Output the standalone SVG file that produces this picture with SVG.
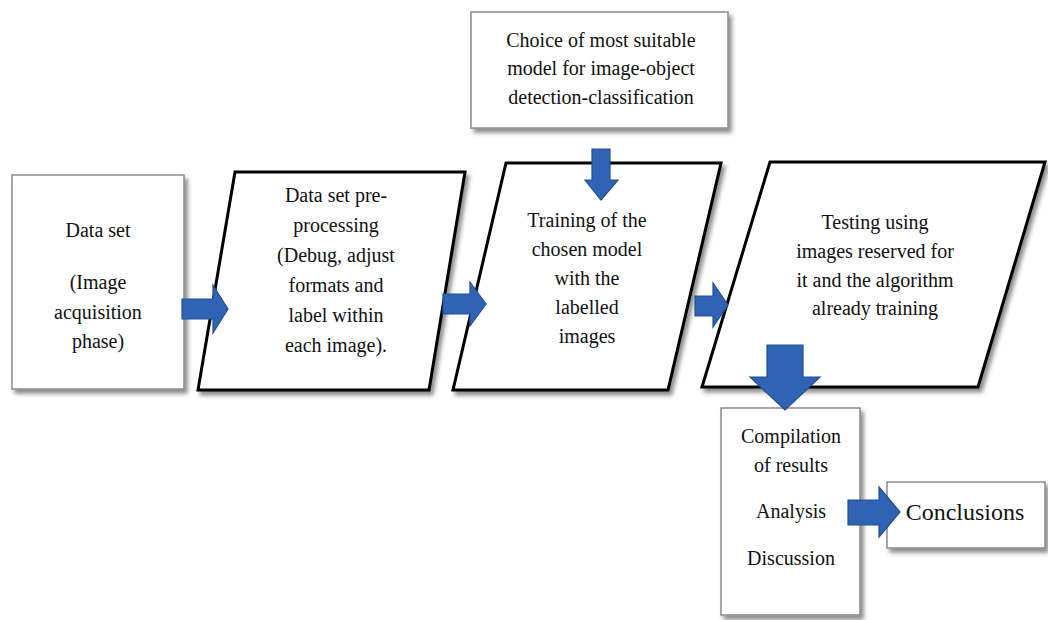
<svg xmlns="http://www.w3.org/2000/svg" width="1048" height="620" viewBox="0 0 1048 620" font-family="'Liberation Serif', 'Times New Roman', 'DejaVu Serif', serif">
<defs>
<filter id="sh" x="-10%" y="-10%" width="130%" height="130%">
<feDropShadow dx="3" dy="4" stdDeviation="2" flood-color="#000" flood-opacity="0.45"/>
</filter>
<style>
.box{fill:#fff;stroke:#8a8a8a;stroke-width:1.5;filter:url(#sh)}
.para{fill:#fff;stroke:#000;stroke-width:3;stroke-linejoin:miter;filter:url(#sh)}
.arr{fill:#2f63b6;stroke:#24508f;stroke-width:1.2;stroke-linejoin:miter}
.t{font-family:'Liberation Serif', 'Times New Roman', 'DejaVu Serif', serif;font-size:20px;fill:#111;text-anchor:middle}
.big{font-size:24px}
</style>
</defs>
<rect width="1048" height="620" fill="#fff"/>
<g id="dataset">
<rect class="box" x="12" y="175" width="172" height="214"/>
<text class="t" x="98" y="237">Data set</text>
<text class="t" x="98" y="289">(Image</text>
<text class="t" x="98" y="319">acquisition</text>
<text class="t" x="98" y="348">phase)</text>
</g>
<g id="preprocessing">
<polygon class="para" points="235,172 465,172 429,390 198,390"/>
<text class="t" x="336" y="202">Data set pre-</text>
<text class="t" x="336" y="232">processing</text>
<text class="t" x="336" y="262">(Debug, adjust</text>
<text class="t" x="336" y="292">formats and</text>
<text class="t" x="336" y="322">label within</text>
<text class="t" x="336" y="352">each image).</text>
</g>
<g id="choice">
<rect class="box" x="471" y="12" width="257" height="116"/>
<text class="t" x="601" y="47">Choice of most suitable</text>
<text class="t" x="601" y="75">model for image-object</text>
<text class="t" x="601" y="104">detection-classification</text>
</g>
<g id="training">
<polygon class="para" points="506,163 721,163 668,390 453,390"/>
<text class="t" x="587" y="227">Training of the</text>
<text class="t" x="587" y="256">chosen model</text>
<text class="t" x="587" y="285">with the</text>
<text class="t" x="587" y="314">labelled</text>
<text class="t" x="587" y="343">images</text>
</g>
<g id="testing">
<polygon class="para" points="770,162 1045,162 978,387 702,387"/>
<text class="t" x="875" y="229">Testing using</text>
<text class="t" x="875" y="258">images reserved for</text>
<text class="t" x="875" y="287">it and the algorithm</text>
<text class="t" x="875" y="315">already training</text>
</g>
<g id="compilation">
<rect class="box" x="721" y="408" width="139" height="207"/>
<text class="t" x="791" y="443">Compilation</text>
<text class="t" x="791" y="472">of results</text>
<text class="t" x="791" y="518">Analysis</text>
<text class="t" x="791" y="565">Discussion</text>
</g>
<g id="conclusions">
<rect class="box" x="887" y="482" width="158" height="66"/>
<text class="t big" x="965" y="520">Conclusions</text>
</g>
<g id="connectors">
<polygon class="arr" points="182,299 213,299 213,285 228,309 213,333 213,319 182,319"/>
<polygon class="arr" points="443,294 470,294 470,282 486,304 470,326 470,314 443,314"/>
<polygon class="arr" points="695,296 713,296 713,283 728,305 713,327 713,316 695,316"/>
<polygon class="arr" points="592,149 610,149 610,180 618,180 601,200 585,180 592,180"/>
<polygon class="arr" points="767,345 803,345 803,377 820,377 785,410 750,377 767,377"/>
<polygon class="arr" points="848,500 879,500 879,487 900,512 879,537 879,525 848,525"/>
</g>
</svg>
